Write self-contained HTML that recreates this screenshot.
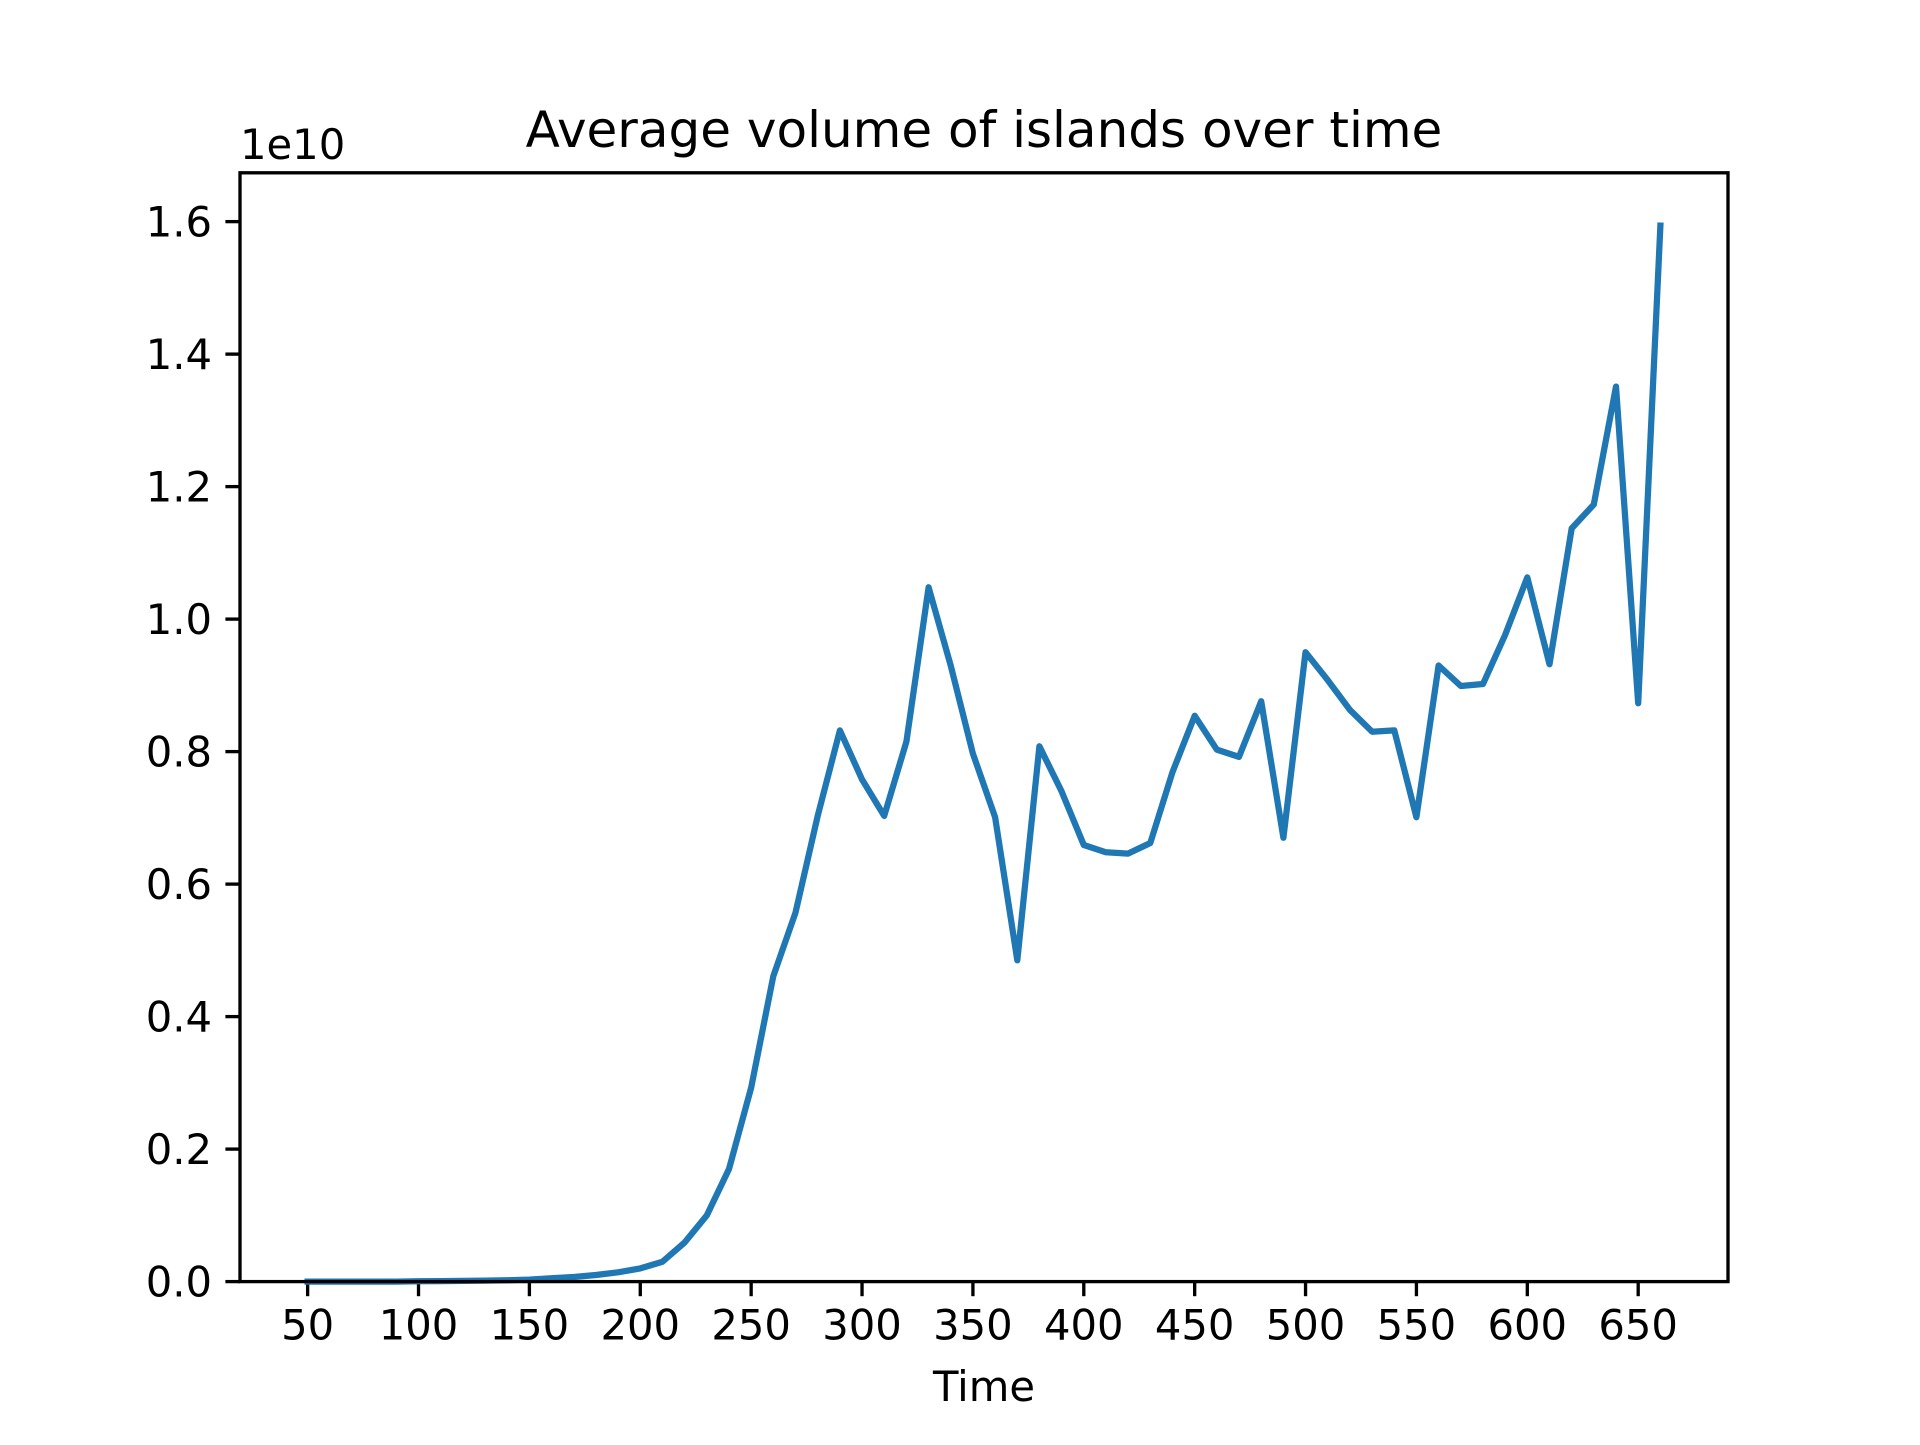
<!DOCTYPE html>
<html><head><meta charset="utf-8"><style>
html,body{margin:0;padding:0;background:#fff;}
svg text{font-family:"DejaVu Sans","Liberation Sans",sans-serif;fill:#000;}
</style></head><body>
<svg id="chart" width="1920" height="1440" viewBox="0 0 1920 1440" xmlns="http://www.w3.org/2000/svg">
<rect width="1920" height="1440" fill="#fff"/>
<text x="984" y="147" font-size="50" text-anchor="middle">Average volume of islands over time</text>
<text x="240" y="159" font-size="41.7">1e10</text>
<text x="984" y="1401" font-size="41.7" text-anchor="middle">Time</text>
<g id="ticks"></g>
<path id="line" fill="none" stroke="#1f77b4" stroke-width="6.25" stroke-linejoin="round" stroke-linecap="square"/>
<rect x="240" y="172.8" width="1488" height="1108.8" fill="none" stroke="#000" stroke-width="3.33"/>
</svg>
<script>
const times = [50,60,70,80,90,100,110,120,130,140,150,160,170,180,190,200,210,220,230,240,250,260,270,280,290,300,310,320,330,340,350,360,370,380,390,400,410,420,430,440,450,460,470,480,490,500,510,520,530,540,550,560,570,580,590,600,610,620,630,640,650,660];
const volumes = [0,0,0,0,0,0.0005,0.0007,0.001,0.0015,0.002,0.003,0.005,0.007,0.01,0.014,0.02,0.03,0.059,0.1,0.17,0.293,0.461,0.557,0.703,0.832,0.758,0.703,0.815,1.048,0.93,0.797,0.701,0.485,0.808,0.74,0.659,0.648,0.646,0.662,0.769,0.854,0.803,0.792,0.876,0.67,0.95,0.908,0.863,0.83,0.832,0.701,0.93,0.899,0.902,0.976,1.063,0.932,1.137,1.173,1.351,0.873,1.594];
const xTicks = [50,100,150,200,250,300,350,400,450,500,550,600,650];
const yTicks = [0,0.2,0.4,0.6,0.8,1.0,1.2,1.4,1.6];
const L=240,R=1728,T=172.8,B=1281.6;
const xmin=19.5,xmax=690.5,ymin=0,ymax=1.6737;
const sx=v=>L+(v-xmin)/(xmax-xmin)*(R-L);
const sy=v=>B-(v-ymin)/(ymax-ymin)*(B-T);
const NS="http://www.w3.org/2000/svg";
const g=document.getElementById('ticks');
xTicks.forEach(t=>{
  const l=document.createElementNS(NS,'line');
  l.setAttribute('x1',sx(t));l.setAttribute('x2',sx(t));l.setAttribute('y1',B);l.setAttribute('y2',B+14.6);
  l.setAttribute('stroke','#000');l.setAttribute('stroke-width','3.33');
  
  
  g.appendChild(l);
  const tx=document.createElementNS(NS,'text');
  tx.setAttribute('x',sx(t));tx.setAttribute('y',B+58);tx.setAttribute('font-size','41.7');tx.setAttribute('text-anchor','middle');
  tx.textContent=t;
  
  
  g.appendChild(tx);
});
yTicks.forEach(t=>{
  const l=document.createElementNS(NS,'line');
  l.setAttribute('x1',L-14.6);l.setAttribute('x2',L);l.setAttribute('y1',sy(t));l.setAttribute('y2',sy(t));
  l.setAttribute('stroke','#000');l.setAttribute('stroke-width','3.33');
  
  
  g.appendChild(l);
  const tx=document.createElementNS(NS,'text');
  tx.setAttribute('x',L-28);tx.setAttribute('y',sy(t)+15);tx.setAttribute('font-size','41.7');tx.setAttribute('text-anchor','end');
  tx.textContent=t.toFixed(1);
  
  
  g.appendChild(tx);
});
document.getElementById('line').setAttribute('d',times.map((t,i)=>(i?'L':'M')+sx(t).toFixed(1)+','+sy(volumes[i]).toFixed(1)).join(' '));
</script>
</body></html>
